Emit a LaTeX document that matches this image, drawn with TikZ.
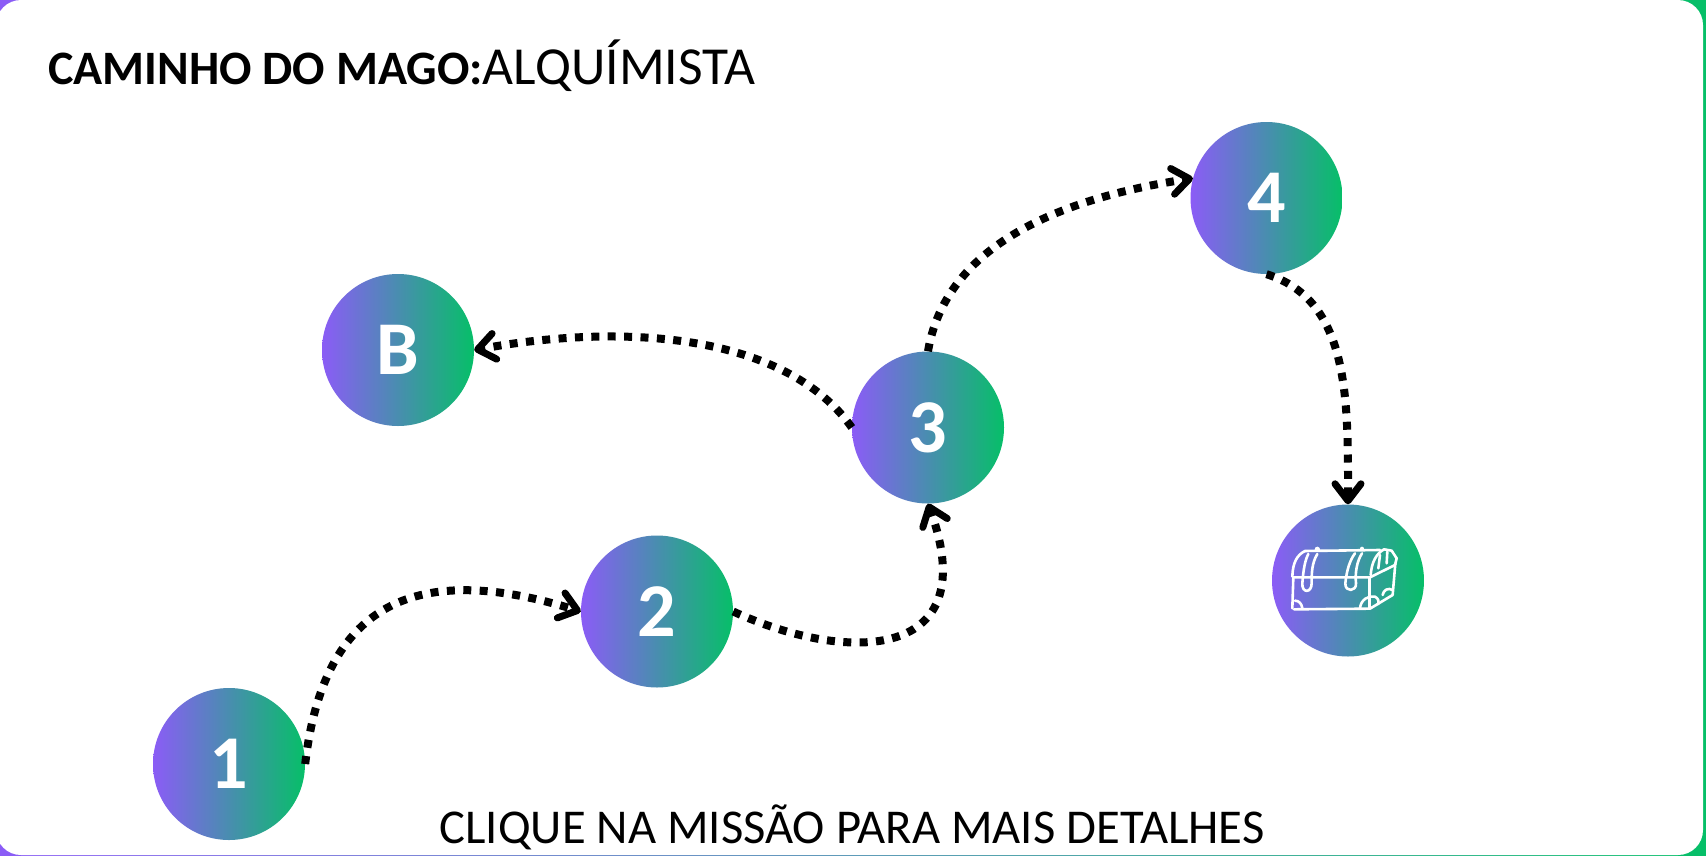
\documentclass[tikz,border=0pt]{standalone}
\usepackage{fontspec}
\setmainfont{Carlito}
\usetikzlibrary{arrows.meta}
\definecolor{magoviolet}{HTML}{8B5CF6}
\definecolor{magogreen}{HTML}{06BF68}
\tikzset{
  mission/.style = {circle, minimum size = 152pt, inner sep = 0pt, left color = magoviolet, right color = magogreen, text = white, font = \fontsize{76}{80}\selectfont\bfseries},
  trail/.style = {line width = 8pt, dash pattern = on 8pt off 8.4pt, -{Straight Barb[length = 17pt, width = 26pt, line width = 7pt, round]}},
  chestline/.style = {white, line width = 2.6pt, line cap = round, line join = round},
}
\begin{document}
\begin{tikzpicture}[x = 1pt, y = -1pt]
\useasboundingbox (0,0) rectangle (1706,855);
\fill[left color = magoviolet, right color = magogreen] (0,0) rectangle (1706,855);
\fill[white, rounded corners = 25pt] (-4,0) rectangle (1703,855);
\node[anchor = base west, inner sep = 0pt] (title) at (48,84) {\fontsize{48}{60}\selectfont\textbf{CAMINHO DO MAGO:}\fontsize{53.5}{60}\selectfont ALQUÍMISTA};
\node[anchor = base, font = \fontsize{48.6}{60}\selectfont] (hint) at (852,843) {CLIQUE NA MISSÃO PARA MAIS DETALHES};
\node[mission] (n1) at (229,764) {1};
\node[mission] (n2) at (657,611.5) {2};
\node[mission] (n3) at (928,427.5) {3};
\node[mission] (n4) at (1266.5,198) {4};
\node[mission] (nb) at (398,350) {B};
\node[mission] (bau) at (1348,580.5) {};
\draw[trail] (n1.east) .. controls (325,590) and (430,565) .. (n2.west);
\draw[trail] (n2.east) .. controls (850,665) and (985,660) .. (n3.south);
\draw[trail] (n3.west) .. controls (790,340) and (640,320) .. (nb.east);
\draw[trail] (n3.north) .. controls (945,250) and (1050,200) .. (n4.165);
\draw[trail] (n4.south) .. controls (1350,300) and (1348,400) .. (bau.north);
% chest icon
\begin{scope}[shift = {(1240,480)}, x = .3333pt, y = -.3333pt]
\draw[chestline] (160,292) -- (390,292) -- (465,255);
\draw[chestline] (160,292) -- (157,385);
\draw[chestline] (162,388) -- (390,386) -- (458,345);
\draw[chestline] (388,292) -- (388,385);
\draw[chestline] (466,250) -- (458,345);
\draw[chestline] (195,213) -- (420,210);
\draw[chestline] (157,290) .. controls (158,250) and (170,225) .. (195,213);
\draw[chestline] (392,285) .. controls (395,245) and (410,220) .. (432,208) -- (455,212) -- (470,235) -- (465,255);
\draw[chestline] (415,265) -- (420,225);
\draw[chestline] (440,250) -- (442,215);
\draw[chestline] (205,222) .. controls (195,240) and (190,270) .. (187,310) .. controls (185,340) and (215,340) .. (215,310) .. controls (215,280) and (215,250) .. (232,222);
\draw[chestline] (345,220) .. controls (330,240) and (320,270) .. (316,310) .. controls (315,338) and (350,335) .. (348,310) .. controls (345,280) and (350,245) .. (366,220);
\fill[white] (232,208) circle (8);
\fill[white] (366,206) circle (6);
\draw[chestline] (165,362) .. controls (178,362) and (185,372) .. (187,385);
\draw[chestline] (360,385) .. controls (362,360) and (385,345) .. (405,350) .. controls (415,355) and (418,365) .. (415,372);
\draw[chestline] (428,345) .. controls (430,330) and (445,322) .. (458,330);
\end{scope}
\end{tikzpicture}
\end{document}
